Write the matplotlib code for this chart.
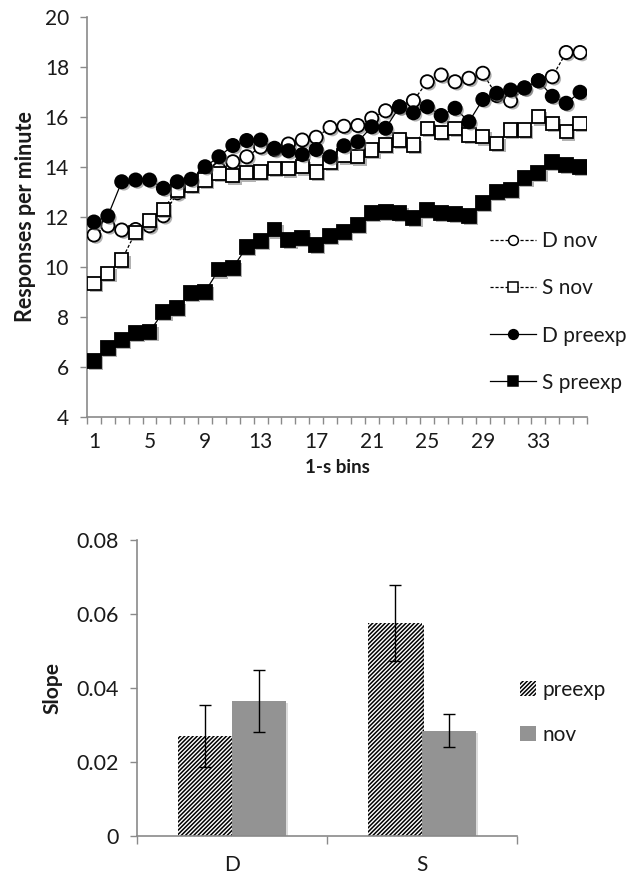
import matplotlib
matplotlib.use("Agg")
import matplotlib.pyplot as plt
from matplotlib import patheffects as pe
from matplotlib.lines import Line2D
from matplotlib.patches import Patch

plt.rcParams["font.family"] = ["Lato", "DejaVu Sans"]
plt.rcParams["hatch.linewidth"] = 1.1

# ---- response rate per 1-s bin ----
bins = list(range(1, 37))
tick_bins = [1, 5, 9, 13, 17, 21, 25, 29, 33]

d_nov = [11.28, 11.65, 11.48, 11.50, 11.65, 12.05, 12.97, 13.30, 13.75, 13.91,
         14.21, 14.41, 14.80, 14.70, 14.92, 15.08, 15.19, 15.58, 15.63, 15.66,
         15.95, 16.25, 16.40, 16.65, 17.41, 17.68, 17.41, 17.55, 17.75, 16.86,
         16.65, 17.15, 17.45, 17.61, 18.58, 18.58]
s_nov = [9.35, 9.75, 10.28, 11.39, 11.85, 12.31, 13.08, 13.28, 13.48, 13.75,
         13.65, 13.77, 13.80, 13.95, 13.93, 14.01, 13.80, 14.19, 14.45, 14.41,
         14.68, 14.88, 15.08, 14.88, 15.55, 15.38, 15.55, 15.28, 15.21, 14.95,
         15.48, 15.48, 16.01, 15.75, 15.41, 15.75]
d_preexp = [11.80, 12.04, 13.41, 13.48, 13.48, 13.15, 13.41, 13.51, 14.01, 14.41,
            14.86, 15.06, 15.08, 14.75, 14.65, 14.50, 14.70, 14.41, 14.85, 15.01,
            15.61, 15.55, 16.41, 16.17, 16.41, 16.06, 16.35, 15.81, 16.70, 16.95,
            17.08, 17.17, 17.45, 16.83, 16.55, 16.99]
s_preexp = [6.25, 6.76, 7.08, 7.37, 7.41, 8.21, 8.35, 8.95, 9.01, 9.90,
            9.97, 10.80, 11.05, 11.50, 11.08, 11.17, 10.88, 11.24, 11.40, 11.68,
            12.16, 12.21, 12.16, 11.96, 12.28, 12.16, 12.12, 12.04, 12.56, 13.00,
            13.08, 13.56, 13.76, 14.20, 14.08, 14.00]

# ---- slopes ----
groups = ["D", "S"]
slope_preexp = [0.0270, 0.0575]
slope_preexp_err = [0.0083, 0.0103]
slope_nov = [0.0365, 0.0285]
slope_nov_err = [0.0085, 0.0044]

W, H = 633, 880
fig = plt.figure(figsize=(W / 100, H / 100), dpi=100)


def axes_px(left, top, right, bottom):
    return fig.add_axes([left / W, 1 - bottom / H, (right - left) / W, (bottom - top) / H])


AXIS_GREY = "#8a8a8a"
TEXT = "#1a1a1a"
shadow = [pe.SimplePatchShadow(offset=(1.6, -1.6), shadow_rgbFace="0.45", alpha=0.55), pe.Normal()]


def style_axes(ax):
    for s in ("top", "right"):
        ax.spines[s].set_visible(False)
    for s in ("left", "bottom"):
        ax.spines[s].set_color(AXIS_GREY)
        ax.spines[s].set_linewidth(1.2)


# ================= line chart =================
ax1 = axes_px(87, 17, 587, 417)
style_axes(ax1)

series = [
    ("D nov", d_nov, "o", "white", (0, (2.5, 1.5)), 9.5),
    ("S nov", s_nov, "s", "white", (0, (2.5, 1.5)), 9.5),
    ("D preexp", d_preexp, "o", "black", "-", 9.5),
    ("S preexp", s_preexp, "s", "black", "-", 10),
]
handles = []
for i, (name, vals, mk, face, ls, ms) in enumerate(series):
    z = 3 + 2 * i
    ax1.plot(bins, vals, color="black", lw=0.9, ls=ls, zorder=z)
    ax1.plot(bins, vals, ls="none", marker=mk, ms=ms, mfc=face, mec="black",
             mew=1.3, zorder=z + 1, path_effects=shadow)
    handles.append(Line2D([], [], color="black", lw=0.9, ls=ls, marker=mk,
                          ms=7, mfc=face, mec="black", mew=1.1, label=name))

ax1.set_xlim(0.5, 36.5)
ax1.set_ylim(4, 20)
ax1.set_yticks(range(4, 21, 2))
ax1.set_xticks(tick_bins)
ax1.set_xticks([b + 0.5 for b in range(0, 37)], minor=True)
ax1.tick_params(axis="x", which="major", length=0, pad=11, labelsize=15, labelcolor=TEXT)
ax1.tick_params(axis="x", which="minor", length=5, width=1, color=AXIS_GREY, direction="out")
ax1.tick_params(axis="y", length=5, width=1, color=AXIS_GREY, pad=8, labelsize=15, labelcolor=TEXT)
ax1.set_xlabel("1-s bins", fontsize=13.5, fontweight="bold", color=TEXT, labelpad=5)
ax1.set_ylabel("Responses per minute", fontsize=15.5, fontweight="bold", color=TEXT, labelpad=6)

fig.legend(handles=handles, loc="center left", bbox_to_anchor=(490 / W, 1 - 312 / H),
           frameon=False, fontsize=15, labelspacing=1.3, handlelength=2.2,
           handletextpad=0.3, borderpad=0, borderaxespad=0, labelcolor=TEXT)

# ================= bar chart =================
ax2 = axes_px(137, 540, 517, 836)
style_axes(ax2)

centers = [0.5, 1.5]
bw = 0.285
bar_shadow = [pe.SimplePatchShadow(offset=(1.5, -1.5), shadow_rgbFace="0.7", alpha=0.45), pe.Normal()]
ax2.bar([c - bw / 2 for c in centers], slope_preexp, width=bw, facecolor="white",
        edgecolor="black", linewidth=0, hatch="////////", zorder=2, path_effects=bar_shadow)
ax2.bar([c + bw / 2 for c in centers], slope_nov, width=bw, color="#939393",
        linewidth=0, zorder=2, path_effects=bar_shadow)
ax2.errorbar([c - bw / 2 for c in centers], slope_preexp, yerr=slope_preexp_err,
             fmt="none", ecolor="black", elinewidth=1, capsize=4, capthick=1, zorder=4)
ax2.errorbar([c + bw / 2 for c in centers], slope_nov, yerr=slope_nov_err,
             fmt="none", ecolor="black", elinewidth=1, capsize=4, capthick=1, zorder=4)

ax2.set_xlim(0, 2)
ax2.set_ylim(0, 0.08)
ax2.set_yticks([0, 0.02, 0.04, 0.06, 0.08])
ax2.set_yticklabels(["0", "0.02", "0.04", "0.06", "0.08"])
ax2.set_xticks(centers)
ax2.set_xticklabels(groups)
ax2.set_xticks([0, 1, 2], minor=True)
ax2.tick_params(axis="x", which="major", length=0, pad=14, labelsize=15, labelcolor=TEXT)
ax2.tick_params(axis="x", which="minor", length=6, width=1, color=AXIS_GREY, direction="out")
ax2.tick_params(axis="y", length=5, width=1, color=AXIS_GREY, pad=8, labelsize=15.5, labelcolor=TEXT)
ax2.set_ylabel("Slope", fontsize=15, fontweight="bold", color=TEXT, labelpad=10)

bar_handles = [
    Patch(facecolor="white", edgecolor="black", linewidth=0, hatch="////////", label="preexp"),
    Patch(facecolor="#939393", linewidth=0, label="nov"),
]
fig.legend(handles=bar_handles, loc="center left", bbox_to_anchor=(520 / W, 1 - 712 / H),
           frameon=False, fontsize=15, labelspacing=1.2, handlelength=0.75, handleheight=0.75,
           handletextpad=0.35, borderpad=0, borderaxespad=0, labelcolor=TEXT)

fig.savefig("out.png", dpi=100)
